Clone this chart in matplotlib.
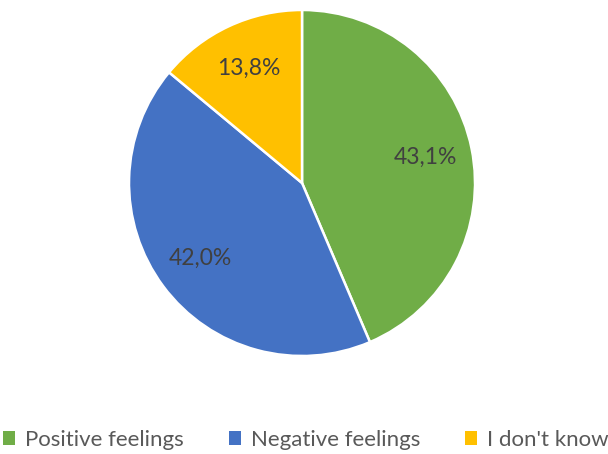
import matplotlib.pyplot as plt
import numpy as np

# survey answers (percent)
categories = ["Positive feelings", "Negative feelings", "I don't know"]
shares = [43.1, 42.0, 13.8]
colors = ["#70AD47", "#4472C4", "#FFC000"]

plt.rcParams['font.family'] = ['Lato', 'DejaVu Sans']

fig = plt.figure(figsize=(6.08, 4.54), dpi=100)
ax = fig.add_axes([0.2122, 0.2159, 0.5691, 0.7621])

wedges, texts, autotexts = ax.pie(
    shares, colors=colors, startangle=90, counterclock=False,
    radius=1, autopct=lambda p: "", pctdistance=0.73,
    wedgeprops=dict(edgecolor="white", linewidth=1.8),
)

# value labels, written the way the sheet shows them (decimal comma)
for t, v in zip(autotexts, shares):
    t.set_text(f"{v:.1f}%".replace(".", ","))
    t.set_color("#404040")
    t.set_fontsize(16.5)

ax.set_xlim(-1, 1)
ax.set_ylim(-1, 1)
ax.set_aspect("equal")

leg = fig.legend(wedges, categories, loc="center", ncol=3,
                 bbox_to_anchor=(0.503, 0.031), frameon=False,
                 handlelength=0.55, handleheight=0.55, handletextpad=0.45,
                 columnspacing=2.0, fontsize=16)
for t in leg.get_texts():
    t.set_color("#595959")
for h in leg.legend_handles:
    h.set_edgecolor("none")

fig.savefig("out.png", dpi=100)
